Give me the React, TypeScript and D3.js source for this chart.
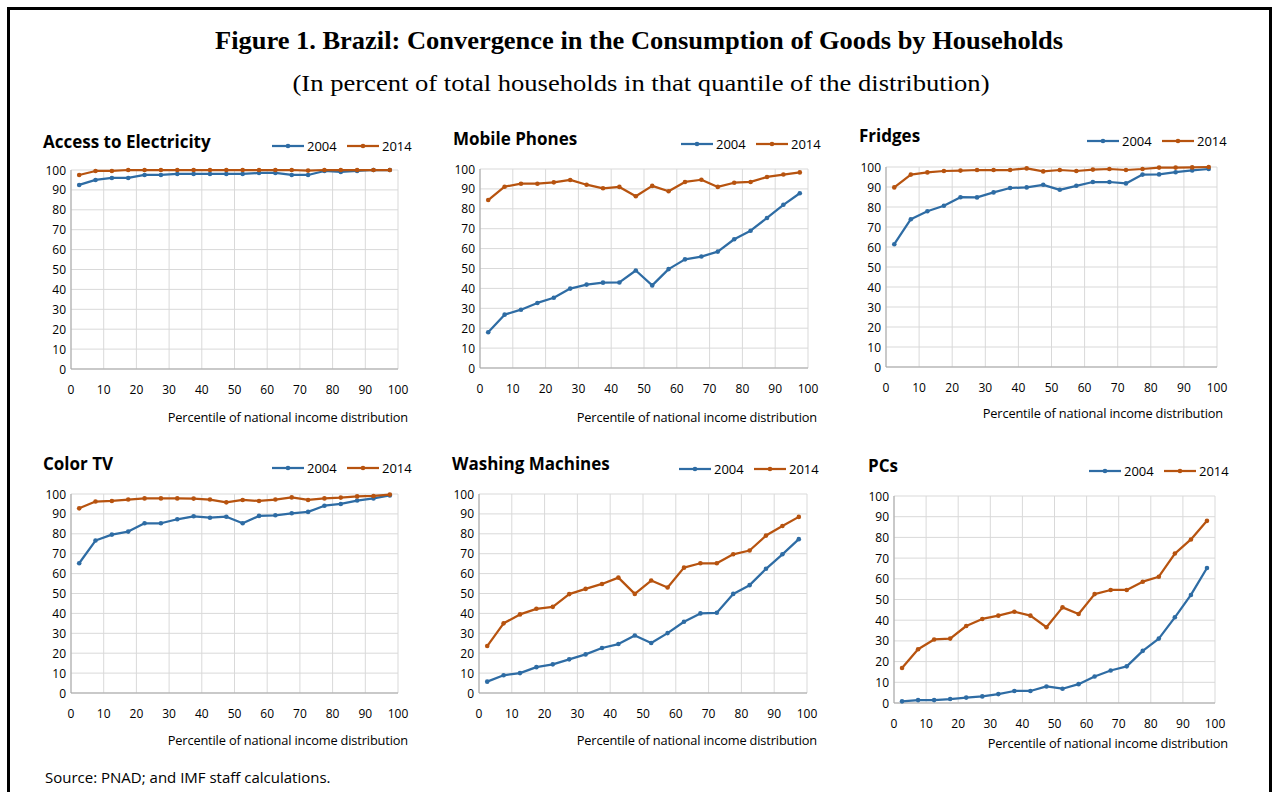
import React from "react";
import * as d3 from "d3";

const percentiles = [2.5, 7.5, 12.5, 17.5, 22.5, 27.5, 32.5, 37.5, 42.5, 47.5, 52.5, 57.5, 62.5, 67.5, 72.5, 77.5, 82.5, 87.5, 92.5, 97.5];
const xTicks = [0, 10, 20, 30, 40, 50, 60, 70, 80, 90, 100];
const yTicks = [0, 10, 20, 30, 40, 50, 60, 70, 80, 90, 100];
const seriesNames = ["2004", "2014"];

const electricity2004 = [92.5, 95, 96, 96, 97.5, 97.5, 98, 98, 98, 98, 98, 98.5, 98.5, 97.5, 97.5, 99.5, 99, 99.5, 100, 100];
const electricity2014 = [97.5, 99.5, 99.5, 100, 100, 100, 100, 100, 100, 100, 100, 100, 100, 100, 99.7, 100, 100, 100, 100, 100];
const mobile2004 = [18, 26.8, 29.3, 32.7, 35.3, 39.9, 41.9, 42.9, 43, 49, 41.5, 49.7, 54.6, 56, 58.5, 64.7, 69, 75.4, 82, 87.8];
const mobile2014 = [84.4, 91.1, 92.6, 92.6, 93.3, 94.5, 92.1, 90.3, 91, 86.3, 91.5, 88.8, 93.5, 94.6, 91, 93.1, 93.5, 96, 97.2, 98.3];
const fridges2004 = [61.4, 73.9, 77.9, 80.6, 84.9, 84.8, 87.3, 89.5, 89.8, 91.1, 88.6, 90.6, 92.5, 92.5, 91.8, 96.2, 96.3, 97.4, 98.3, 99];
const fridges2014 = [89.8, 96.2, 97.3, 98, 98.2, 98.5, 98.5, 98.5, 99.3, 97.8, 98.5, 98, 98.7, 99, 98.5, 99, 99.7, 99.7, 99.8, 100];
const tv2004 = [65.2, 76.6, 79.6, 81.1, 85.3, 85.3, 87.3, 88.8, 88.1, 88.6, 85.3, 89, 89.3, 90.3, 91, 94.1, 95, 96.7, 97.8, 99.3];
const tv2014 = [92.8, 96.2, 96.5, 97.2, 97.8, 97.8, 97.8, 97.7, 97.2, 95.8, 97, 96.5, 97.2, 98.3, 97, 97.8, 98.2, 98.8, 99, 99.7];
const washing2004 = [5.7, 8.9, 10, 13, 14.4, 16.9, 19.4, 22.6, 24.6, 28.9, 25.1, 30.1, 35.8, 40, 40.3, 49.8, 54.2, 62.4, 69.7, 77.3];
const washing2014 = [23.6, 35, 39.5, 42.3, 43.3, 49.7, 52.3, 54.8, 58, 49.8, 56.5, 53, 63, 65.2, 65.2, 69.7, 71.6, 79.1, 83.9, 88.5];
const pcs2004 = [0.8, 1.4, 1.4, 1.9, 2.6, 3.2, 4.3, 5.8, 5.8, 8, 6.9, 9.1, 12.8, 15.7, 17.7, 25.2, 31.1, 41.4, 52.2, 65.2];
const pcs2014 = [16.9, 26, 30.7, 31.1, 37.2, 40.6, 42.2, 44.1, 42.2, 36.6, 46.2, 43, 52.6, 54.6, 54.6, 58.6, 61, 72.2, 79, 88];

const panelTitles = ["Access to Electricity", "Mobile Phones", "Fridges", "Color TV", "Washing Machines", "PCs"];
const panelData = [
  [electricity2004, electricity2014],
  [mobile2004, mobile2014],
  [fridges2004, fridges2014],
  [tv2004, tv2014],
  [washing2004, washing2014],
  [pcs2004, pcs2014],
];

const figureTitle = "Figure 1. Brazil: Convergence in the Consumption of Goods by Households";
const figureSubtitle = "(In percent of total households in that quantile of the distribution)";
const xAxisTitle = "Percentile of national income distribution";
const sourceNote = "Source: PNAD; and IMF staff calculations.";

const COLORS = ["#2e6ca4", "#b7530f"];
const SANS = "'Open Sans', 'Noto Sans', sans-serif";
const SERIF = "'Liberation Serif', 'Times New Roman', serif";

// layout per panel: plot box, title pos, legend pos, axis title pos
const layouts = [
  { l: 71, r: 398, t: 170, b: 369, tx: 43, ty: 148, lx: 272, ly: 146, ax: 408, ay: 422 },
  { l: 480, r: 808, t: 169, b: 368, tx: 453, ty: 145, lx: 681, ly: 144, ax: 817, ay: 422 },
  { l: 886, r: 1217, t: 167, b: 367, tx: 859, ty: 142, lx: 1087, ly: 141, ax: 1223, ay: 418 },
  { l: 71, r: 398, t: 494, b: 693, tx: 43, ty: 470, lx: 272, ly: 468, ax: 408, ay: 745 },
  { l: 479, r: 807, t: 494, b: 693, tx: 452, ty: 470, lx: 679, ly: 469, ax: 817, ay: 745 },
  { l: 894, r: 1215, t: 496, b: 703, tx: 868, ty: 472, lx: 1089, ly: 471, ax: 1228, ay: 748 },
];

function Panel({ idx }: { idx: number }) {
  const L = layouts[idx];
  const x = d3.scaleLinear().domain([0, 100]).range([L.l, L.r]);
  const y = d3.scaleLinear().domain([0, 100]).range([L.b, L.t]);
  const line = d3
    .line<number>()
    .x((_, i) => x(percentiles[i]))
    .y((d) => y(d));
  const series = panelData[idx];
  return (
    <g>
      <text x={L.tx} y={L.ty} fontFamily={SANS} fontWeight={700} fontSize={17} fill="#000">
        {panelTitles[idx]}
      </text>
      {/* legend */}
      {seriesNames.map((name, si) => {
        const lx = L.lx + si * 75;
        return (
          <g key={name}>
            <line x1={lx} x2={lx + 32} y1={L.ly} y2={L.ly} stroke={COLORS[si]} strokeWidth={2.25} />
            <circle cx={lx + 16} cy={L.ly} r={2.3} fill={COLORS[si]} />
            <text x={lx + 35} y={L.ly + 4.8} fontFamily={SANS} fontSize={13} fill="#000">
              {name}
            </text>
          </g>
        );
      })}
      {/* grid */}
      {yTicks.map((t) => (
        <line key={"gy" + t} x1={L.l} x2={L.r} y1={y(t)} y2={y(t)} stroke="#d9d9d9" strokeWidth={1} />
      ))}
      {xTicks.map((t) => (
        <line key={"gx" + t} x1={x(t)} x2={x(t)} y1={L.t} y2={L.b} stroke="#d9d9d9" strokeWidth={1} />
      ))}
      <line x1={L.l} x2={L.l} y1={L.t} y2={L.b} stroke="#a6a6a6" strokeWidth={1} />
      <line x1={L.l} x2={L.r} y1={L.b} y2={L.b} stroke="#a6a6a6" strokeWidth={1} />
      {/* tick labels */}
      {yTicks.map((t) => (
        <text key={"ly" + t} x={L.l - 5} y={y(t) + 4.5} textAnchor="end" fontFamily={SANS} fontSize={12} fill="#000">
          {t}
        </text>
      ))}
      {xTicks.map((t) => (
        <text key={"lx" + t} x={x(t)} y={L.b + 25} textAnchor="middle" fontFamily={SANS} fontSize={12} fill="#000">
          {t}
        </text>
      ))}
      <text x={L.ax} y={L.ay} textAnchor="end" fontFamily={SANS} fontSize={12.8} fill="#000" letterSpacing={-0.15}>
        {xAxisTitle}
      </text>
      {/* series */}
      {series.map((vals, si) => (
        <g key={"s" + si}>
          <path d={line(vals) || ""} fill="none" stroke={COLORS[si]} strokeWidth={2.25} strokeLinejoin="round" />
          {vals.map((v, i) => (
            <circle key={i} cx={x(percentiles[i])} cy={y(v)} r={2.3} fill={COLORS[si]} />
          ))}
        </g>
      ))}
    </g>
  );
}

export default function App() {
  return (
    <svg width={1278} height={792} style={{ position: "absolute", left: 0, top: 0, background: "#fff" }}>
      <rect x={0} y={0} width={1278} height={792} fill="#fff" />
      <rect x={8.5} y={8.5} width={1262} height={800} fill="none" stroke="#000" strokeWidth={3} />
      <text
        x={639}
        y={49}
        textAnchor="middle"
        fontFamily={SERIF}
        fontWeight={700}
        fontSize={26}
        fill="#000"
        textLength={848}
        lengthAdjust="spacingAndGlyphs"
      >
        {figureTitle}
      </text>
      <text
        x={641}
        y={91}
        textAnchor="middle"
        fontFamily={SERIF}
        fontSize={23}
        fill="#000"
        textLength={697}
        lengthAdjust="spacingAndGlyphs"
      >
        {figureSubtitle}
      </text>
      {layouts.map((_, i) => (
        <Panel key={i} idx={i} />
      ))}
      <text x={45} y={783} fontFamily={SANS} fontSize={15} fill="#000">
        {sourceNote}
      </text>
    </svg>
  );
}
